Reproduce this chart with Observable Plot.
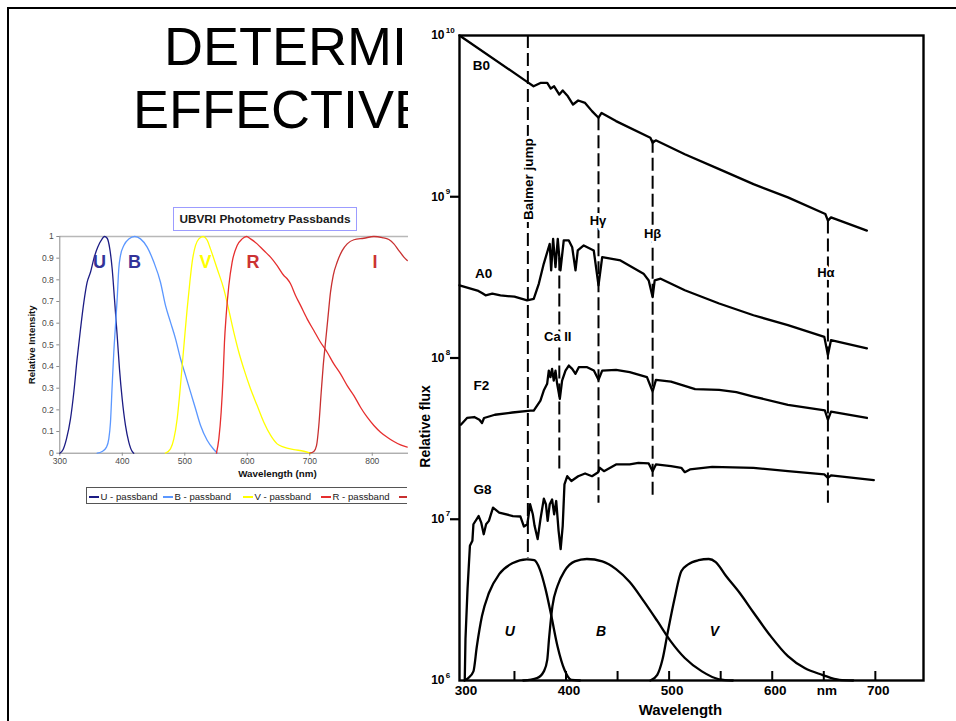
<!DOCTYPE html>
<html><head><meta charset="utf-8">
<script src="https://cdn.jsdelivr.net/npm/d3@7"></script>
<script src="https://cdn.jsdelivr.net/npm/@observablehq/plot@0.6"></script>
<style>
html,body{margin:0;padding:0;background:#fff;}
#page{position:relative;width:956px;height:721px;overflow:hidden;background:#fff;}
.abs{position:absolute;}
#frameTop{left:7px;top:7px;width:949px;height:2.4px;background:#000;}
#frameLeft{left:7px;top:7px;width:2.4px;height:714px;background:#000;}
#titleBox{left:173px;top:207px;width:182px;height:22px;border:1px solid #9c9cff;font:bold 11.8px "Liberation Sans",Arial,sans-serif;color:#1a1a1a;text-align:center;line-height:22px;box-sizing:content-box;}
#legendWrap{left:0;top:487px;width:407px;height:18px;overflow:hidden;}
#legendBox{position:absolute;left:85.5px;top:0;width:360px;height:15px;border:1px solid #555;}
.item{position:absolute;top:0;height:17px;display:flex;align-items:center;white-space:nowrap;font:9.6px "Liberation Sans",Arial,sans-serif;color:#1a1a1a;}
.sw{display:inline-block;width:10px;height:2px;margin-right:2px;}
svg{overflow:visible;}
</style>
</head>
<body>
<div id="page">
  <div id="frameTop" class="abs"></div>
  <div id="frameLeft" class="abs"></div>
  <svg class="abs" style="left:0;top:0;overflow:hidden" width="408" height="150">
    <text x="164" y="65" font-family="Liberation Sans, Arial, sans-serif" font-size="54" fill="#000">DETERMI</text>
    <text x="133" y="128" font-family="Liberation Sans, Arial, sans-serif" font-size="54" fill="#000">EFFECTIVE</text>
  </svg>
  <div id="titleBox" class="abs">UBVRI Photometry Passbands</div>
  <div id="leftChart" class="abs" style="left:0;top:200px;width:408px;height:290px"></div>
  <div id="legendWrap" class="abs"><div id="legendBox"></div></div>
  <div id="rightChart" class="abs" style="left:400px;top:0;width:556px;height:721px"></div>
  <div id="filterChart" class="abs" style="left:400px;top:0;width:556px;height:721px"></div>
</div>
<script>
// ---------- Left chart: UBVRI passbands (wavelength nm, relative intensity) ----------
const passbandNames = ["U", "B", "V", "R", "I"];
const passbandColors = ["#1c1c84", "#5b97ff", "#ffff00", "#e62e2e", "#c83030"];
const U_pass = [[300,0],[305.3,0.017],[310.7,0.066],[317.1,0.158],[322.4,0.28],[327.7,0.435],[333.1,0.572],[338.4,0.695],[343.7,0.788],[349.1,0.835],[354.4,0.897],[360.8,0.951],[367.8,0.989],[371.5,1.0],[375.8,0.992],[380,0.943],[383.8,0.851],[387.5,0.712],[391.8,0.543],[395.5,0.389],[399.8,0.251],[405.1,0.128],[410.4,0.051],[415.8,0.008],[418.4,0]];
const B_pass = [[359.8,0],[367.8,0.008],[374.7,0.028],[378.4,0.066],[381.1,0.143],[383.8,0.312],[386.4,0.466],[389.1,0.589],[391.8,0.712],[394.4,0.851],[397.1,0.912],[402.4,0.958],[410.4,0.989],[420,1.0],[429.1,0.989],[439.8,0.951],[450.4,0.882],[461.1,0.789],[469.1,0.682],[477.1,0.605],[485.1,0.529],[493.1,0.437],[501.1,0.36],[509.1,0.283],[517.1,0.206],[525.1,0.129],[535.8,0.06],[546.5,0.017],[551.8,0]];
const V_pass = [[469.1,0],[477.1,0.02],[482.5,0.066],[487.8,0.158],[492.1,0.28],[495.8,0.403],[499.5,0.526],[503.8,0.666],[508.1,0.789],[511.8,0.882],[517.1,0.958],[522.5,0.989],[529.4,1.0],[535.5,0.985],[541.1,0.943],[551.8,0.851],[562.5,0.757],[570.5,0.66],[578.5,0.558],[586.5,0.466],[594.5,0.389],[605.2,0.297],[615.8,0.22],[626.5,0.143],[637.2,0.083],[647.8,0.043],[658.5,0.028],[674.5,0.017],[690.5,0.009],[701.2,0]];
const R_pass = [[550.7,0],[554.5,0.066],[558.2,0.189],[561.4,0.358],[563.5,0.512],[566.2,0.635],[570.5,0.774],[575.8,0.882],[583.8,0.958],[591.8,0.989],[598.8,1.0],[605.2,0.989],[615.8,0.966],[626.5,0.935],[637.2,0.905],[647.8,0.866],[658.5,0.82],[663.8,0.805],[669.2,0.782],[677.2,0.728],[685.2,0.682],[695.8,0.62],[706.5,0.566],[717.2,0.512],[727.9,0.466],[738.5,0.412],[749.2,0.366],[759.9,0.312],[770.6,0.266],[781.2,0.212],[791.9,0.166],[802.6,0.128],[813.3,0.097],[823.9,0.074],[834.6,0.054],[845.3,0.038],[856,0.028]];
const I_pass = [[700.1,0],[706.5,0.008],[710.8,0.035],[714.5,0.128],[718.3,0.281],[721.5,0.403],[725.2,0.512],[728.9,0.62],[733.2,0.743],[737.5,0.82],[743.9,0.882],[751.9,0.935],[759.9,0.966],[770.6,0.985],[786.6,0.992],[802.6,1.0],[816,0.995],[826.6,0.986],[834.6,0.966],[842.6,0.935],[850.6,0.905],[856,0.889]];
const intensityTicks = [0,0.1,0.2,0.3,0.4,0.5,0.6,0.7,0.8,0.9,1];
const passbandLambdaTicks = [300,400,500,600,700,800];
const passbandLetters = [
  {band:"U", lambda:363.5, r:0.882, color:"#333399"},
  {band:"B", lambda:419.6, r:0.882, color:"#333399"},
  {band:"V", lambda:533.2, r:0.882, color:"#ffff00"},
  {band:"R", lambda:609.2, r:0.882, color:"#cc3333"},
  {band:"I", lambda:804.5, r:0.882, color:"#cc3333"}
];
// legend entries (the last one is cut by the figure on the right: only its line shows)
const legendLabels = ["U - passband", "B - passband", "V - passband", "R - passband", ""];

// ---------- Right chart: stellar spectra (wavelength nm, log10 relative flux) ----------
const B0_flux = [[296.7,10.0],[360.2,9.722],[368.5,9.685],[375.2,9.706],[381.8,9.706],[385.2,9.671],[388.5,9.685],[393.5,9.634],[396.8,9.659],[401.8,9.623],[406.8,9.572],[411.8,9.597],[418.5,9.582],[425.2,9.531],[431.5,9.49],[434.5,9.52],[448.5,9.469],[481.8,9.366],[484,9.335],[487,9.35],[515.2,9.264],[548.5,9.171],[581.8,9.078],[615.2,8.996],[651.5,8.893],[654,8.852],[657,8.872],[691.8,8.79]];
const A0_flux = [[296.7,8.451],[315,8.416],[318.5,8.403],[322,8.389],[328.5,8.399],[336.4,8.388],[350,8.38],[362.3,8.357],[368.7,8.367],[373.6,8.46],[378.4,8.584],[384.2,8.708],[385.6,8.543],[387.5,8.739],[389.8,8.563],[392,8.739],[394.6,8.543],[397.8,8.729],[402.7,8.729],[406,8.687],[409.2,8.543],[411.4,8.667],[417.2,8.698],[426.9,8.667],[431.5,8.45],[435.1,8.625],[452.8,8.605],[475.2,8.523],[480.2,8.481],[484,8.378],[486,8.481],[491.8,8.492],[515.2,8.42],[548.5,8.338],[581.8,8.265],[615.2,8.204],[650.5,8.131],[654,8.019],[657,8.111],[691.8,8.06]];
const F2_flux = [[298,7.586],[304,7.628],[311,7.634],[316,7.617],[318.5,7.597],[320.5,7.628],[331,7.648],[348,7.662],[365.5,7.674],[368.7,7.674],[375.2,7.736],[378.4,7.798],[381.7,7.84],[383.3,7.922],[384.9,7.881],[386.5,7.933],[388.1,7.86],[389.8,7.922],[391.4,7.84],[394,7.747],[396.2,7.86],[399.5,7.922],[402.7,7.953],[406,7.933],[409.2,7.902],[412.4,7.943],[420.5,7.943],[427,7.922],[431.5,7.865],[435.1,7.922],[448.5,7.926],[461.8,7.912],[478.5,7.881],[484,7.792],[487.2,7.864],[501.8,7.854],[525.2,7.807],[548.5,7.802],[565.2,7.788],[581.8,7.761],[615.2,7.71],[651,7.675],[654,7.617],[657,7.668],[691.8,7.628]];
const G8_flux = [[301.8,6.002],[302.5,6.259],[304.5,6.568],[306.8,6.835],[309.2,6.866],[310.2,6.969],[315.2,7.02],[317.8,6.979],[320.2,6.907],[322.5,6.969],[325.2,6.99],[329.2,7.072],[335.2,7.041],[348.5,7.02],[355.8,7.017],[359.2,6.955],[362.5,6.969],[365.2,7.093],[367.8,7.031],[369.5,6.959],[372.5,6.877],[375.2,7.0],[378.5,7.128],[380.5,7.093],[382.2,6.99],[384.2,7.093],[386.5,7.123],[388.5,7.031],[390.5,7.113],[392.8,6.928],[394.8,6.815],[396.8,6.959],[398.5,7.216],[401.2,7.267],[405.2,7.237],[411.8,7.267],[418.5,7.284],[425.2,7.267],[431.2,7.292],[432.8,7.319],[436.8,7.298],[448.5,7.34],[461.8,7.34],[470.2,7.35],[480.2,7.346],[484,7.298],[487.2,7.34],[501.8,7.329],[511.8,7.319],[515.2,7.292],[520.2,7.309],[541.8,7.325],[581.8,7.319],[615.2,7.298],[650.5,7.278],[654,7.257],[657,7.272],[698.5,7.243]];
const starNames = ["B0", "A0", "F2", "G8"];
const starLabels = [
  {text:"B0", lambda:318, logFlux:9.81},
  {text:"A0", lambda:320, logFlux:8.52},
  {text:"F2", lambda:318, logFlux:7.83},
  {text:"G8", lambda:319, logFlux:7.185}
];
// dashed marker lines: wavelength, upper and lower log flux
const featureLines = [
  {name:"Balmer jump", lambda:363, top:10.0, bottom:6.76},
  {name:"Ca II", lambda:393.5, top:8.62, bottom:7.30},
  {name:"Hγ", lambda:431.5, top:9.49, bottom:7.10},
  {name:"Hβ", lambda:484, top:9.35, bottom:7.135},
  {name:"Hα", lambda:654, top:8.85, bottom:7.10}
];
const featureLabels = [
  {text:"Ca II", lambda:392, logFlux:8.13},
  {text:"Hγ", lambda:431, logFlux:8.85},
  {text:"Hβ", lambda:484, logFlux:8.77},
  {text:"Hα", lambda:652, logFlux:8.53}
];
const balmerLabel = [{text:"Balmer jump", lambda:363.5, logFlux:9.11}];
const fluxTickValues = [6, 7, 8, 9, 10];
const fluxTickBase = "10";
const fluxTickExponents = ["6", "7", "8", "9", "10"];
const fluxTickMarks = [7, 8, 9];
const wavelengthTickMarks = [350, 400, 450, 500, 550, 600, 650, 700];
const wavelengthTickValues = [300, 400, 500, 600, 650, 700];
const wavelengthTickLabels = ["300", "400", "500", "600", "nm", "700"];

// filter responses drawn at the bottom of the spectra figure
const filterNames = ["U", "B", "V"];
const U_filter = [[301.5,0],[305.2,0.02],[310.2,0.075],[313.5,0.28],[318.5,0.53],[325.2,0.72],[335.2,0.875],[348.5,0.967],[361.8,0.997],[369.2,0.99],[374.5,0.917],[380.2,0.75],[385.8,0.53],[391.8,0.28],[398.5,0.088],[405.2,0.005],[413.5,0]];
const B_filter = [[358.5,0],[371.8,0.02],[378.5,0.075],[381.8,0.17],[383.5,0.34],[386.8,0.61],[391.8,0.78],[398.5,0.9],[408.5,0.98],[420.2,1.0],[435.2,0.98],[448.5,0.917],[461.8,0.81],[475.2,0.655],[488.5,0.49],[501.8,0.32],[515.2,0.185],[531.8,0.075],[548.5,0.01],[561.8,0]];
const V_filter = [[481.8,0],[488.5,0.047],[493.5,0.17],[498.5,0.39],[505.2,0.67],[511.8,0.9],[518.5,0.956],[528.5,0.99],[538.5,1.0],[545.2,0.975],[555.2,0.86],[568.5,0.72],[581.8,0.56],[598.5,0.365],[615.2,0.2],[631.8,0.1],[648.5,0.047],[665.2,0.005],[678.5,0]];
const filterLabels = [
  {text:"U", lambda:345.5, r:0.40},
  {text:"B", lambda:434, r:0.40},
  {text:"V", lambda:544, r:0.40}
];

// ---------- build tables ----------
const toRows = (arr, name, kx, ky) => arr.map(([a, b]) => ({series: name, [kx]: a, [ky]: b}));
const passRows = [U_pass, B_pass, V_pass, R_pass, I_pass].flatMap((a, i) => toRows(a, passbandNames[i], "lambda", "r"));
const specRows = [B0_flux, A0_flux, F2_flux, G8_flux].flatMap((a, i) => toRows(a, starNames[i], "lambda", "logFlux"));
const filterRows = [U_filter, B_filter, V_filter].flatMap((a, i) => toRows(a, filterNames[i], "lambda", "r"));

const arial = "'Liberation Sans', Arial, sans-serif";

// ---------- left plot ----------
const left = Plot.plot({
  width: 408, height: 290,
  marginLeft: 59.3, marginRight: 0, marginTop: 36, marginBottom: 37.3,
  style: {background: "transparent", fontFamily: arial, fontSize: "8.5px", color: "#444", overflow: "visible"},
  x: {domain: [300, 858]},
  y: {domain: [0, 1]},
  color: {domain: passbandNames, range: passbandColors},
  marks: [
    Plot.ruleY([1], {stroke: "#b8b8b8", strokeWidth: 1.5}),
    Plot.ruleX([300], {stroke: "#8c8c8c"}),
    Plot.ruleY([0], {stroke: "#8c8c8c"}),
    Plot.axisY({ticks: intensityTicks, tickSize: 3, tickPadding: 3, stroke: "#8c8c8c", fill: "#4a4a4a", tickFormat: d => String(d), label: null}),
    Plot.axisX({ticks: passbandLambdaTicks, tickSize: 3, tickPadding: 1.5, stroke: "#8c8c8c", fill: "#4a4a4a", tickFormat: d => String(d), label: null}),
    Plot.line(passRows, {x: "lambda", y: "r", z: "series", stroke: "series", strokeWidth: 1.3, curve: "monotone-x"}),
    ...passbandLetters.map(d => Plot.text([d], {x: "lambda", y: "r", text: "band", fill: d.color, fontWeight: "bold", fontSize: 18, fontFamily: arial})),
    Plot.text(["Relative Intensity"], {frameAnchor: "left", textAnchor: "middle", rotate: -90, dx: -28.3, fontWeight: "bold", fontSize: 9.6, fill: "#111"}),
    Plot.text(["Wavelength (nm)"], {x: [648.4], frameAnchor: "bottom", dy: 23.3, fontWeight: "bold", fontSize: 9.8, fill: "#111"})
  ]
});
document.getElementById("leftChart").appendChild(left);

// legend items at their places along the box
const legendBox = document.getElementById("legendBox");
const legendLefts = [2, 76, 156, 234, 312];
legendLabels.forEach((t, i) => {
  const it = document.createElement("div"); it.className = "item"; it.style.left = legendLefts[i] + "px";
  const sw = document.createElement("span"); sw.className = "sw"; sw.style.background = passbandColors[i];
  it.appendChild(sw);
  if (t) { const tx = document.createElement("span"); tx.textContent = t; it.appendChild(tx); }
  legendBox.appendChild(it);
});

// ---------- right plot ----------
const wlFmt = d => wavelengthTickLabels[wavelengthTickValues.indexOf(d)];
const right = Plot.plot({
  width: 556, height: 721,
  marginLeft: 59, marginRight: 33, marginTop: 35, marginBottom: 41,
  style: {background: "transparent", fontFamily: arial, overflow: "visible"},
  x: {domain: [296.7, 746.7]},
  y: {domain: [6, 10], axis: null},
  marks: [
    Plot.ruleX(featureLines, {x: "lambda", y1: "top", y2: "bottom", stroke: "#000", strokeWidth: 2, strokeDasharray: "13,5"}),
    Plot.line(specRows, {x: "lambda", y: "logFlux", z: "series", stroke: "#000", strokeWidth: 2.3, strokeLinejoin: "round"}),
    Plot.text(featureLabels, {x: "lambda", y: "logFlux", text: "text", fill: "#000", stroke: "white", strokeWidth: 6, fontWeight: "bold", fontSize: 13}),
    Plot.text(balmerLabel, {x: "lambda", y: "logFlux", text: "text", rotate: -90, fill: "#000", stroke: "white", strokeWidth: 6, fontWeight: "bold", fontSize: 13.5}),
    Plot.text(starLabels, {x: "lambda", y: "logFlux", text: "text", fill: "#000", fontWeight: "bold", fontSize: 13.5}),
    Plot.frame({stroke: "#000", strokeWidth: 2.4}),
    // outward y ticks and power-of-ten labels
    Plot.ruleY(fluxTickMarks, {stroke: "#000", strokeWidth: 2.2, insetLeft: -9, insetRight: 464}),
    Plot.text(fluxTickValues, {y: d => d, text: () => fluxTickBase, frameAnchor: "left", textAnchor: "end", dx: -15, fontSize: 12, fontWeight: "bold", fill: "#000"}),
    Plot.text(fluxTickValues, {y: d => d, text: (d, i) => fluxTickExponents[i], frameAnchor: "left", textAnchor: "start", dx: -13.8, dy: -5.5, fontSize: 8, fontWeight: "bold", fill: "#000"}),
    // inward x ticks and labels
    Plot.ruleX(wavelengthTickMarks, {stroke: "#000", strokeWidth: 2, insetTop: 636}),
    Plot.axisX({ticks: wavelengthTickValues, tickSize: 0, tickPadding: 5, tickFormat: wlFmt, dx: 3, fontSize: 13.5, fontWeight: "bold", fill: "#000", label: null}),
    Plot.text(["Relative flux"], {frameAnchor: "left", textAnchor: "middle", rotate: -90, dx: -34.4, dy: 68.5, fontWeight: "bold", fontSize: 14, fill: "#000"}),
    Plot.text(["Wavelength"], {x: [511], frameAnchor: "bottom", dy: 34, fontWeight: "bold", fontSize: 15, fill: "#000"})
  ]
});
document.getElementById("rightChart").appendChild(right);

// ---------- filter overlay ----------
const filt = Plot.plot({
  width: 556, height: 721,
  marginLeft: 59, marginRight: 33, marginTop: 558.5, marginBottom: 41,
  style: {background: "transparent", fontFamily: arial, overflow: "visible"},
  x: {domain: [296.7, 746.7], axis: null},
  y: {domain: [0, 1], axis: null},
  marks: [
    Plot.line(filterRows, {x: "lambda", y: "r", z: "series", stroke: "#000", strokeWidth: 2.3, curve: "monotone-x"}),
    Plot.text(filterLabels, {x: "lambda", y: "r", text: "text", fontStyle: "italic", fontWeight: "bold", fontSize: 14, fill: "#000"})
  ]
});
document.getElementById("filterChart").appendChild(filt);
</script>
</body></html>
